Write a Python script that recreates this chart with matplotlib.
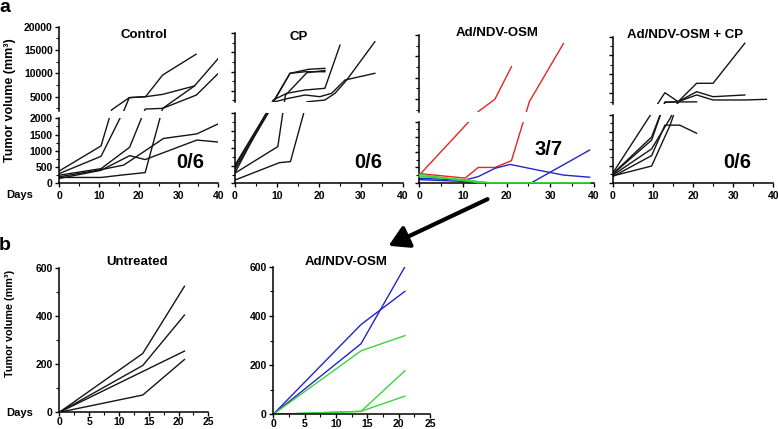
import numpy as np
import matplotlib
matplotlib.use("Agg")
import matplotlib.pyplot as plt
from matplotlib.patches import FancyArrowPatch

plt.rcParams["font.family"] = ["Liberation Sans", "DejaVu Sans"]
plt.rcParams["font.weight"] = "bold"

# ---- panel a data (days, tumour volume mm3) ----
ctrl_days = [
    [0, 10.5, 13.2, 17.6, 21.7, 26, 34],
    [0, 10.5, 16.3, 17.6, 21.7, 26, 34.4],
    [0, 10.5, 17.7, 21.6, 26, 34, 40],
    [0, 10.5, 16.2, 21.6, 26, 34.5, 40],
    [0, 10.5, 16.2, 21.6, 26.2, 34.6, 40],
    [0, 10.5, 17.7, 21.6, 34.6, 40],
]
ctrl_vol = [
    [380, 1150, 2200, 4800, 5000, 5500, 7300],
    [300, 830, 2150, 4800, 5000, 9650, 14100],
    [250, 450, 1110, 2360, 2500, 7300, 13200],
    [180, 180, 260, 330, 2500, 5360, 10000],
    [200, 420, 560, 1000, 1380, 1520, 1830],
    [150, 400, 850, 730, 1330, 1270],
]

cp_days = [
    [0, 9.1, 13.1, 17.5, 21.4],
    [0, 9.3, 13.1, 16.7, 21.4],
    [0, 9.1, 12.3, 16.7, 21.4, 25],
    [0, 10.2, 12, 17.1, 21.4],
    [0, 10.6, 13.2, 17.1, 21.4, 23.8, 26.6, 33.3],
    [0, 9.5, 12.7, 16.7, 20.2, 23, 26.2, 33.3],
]
cp_vol = [
    [520, 2130, 9550, 10590, 10850],
    [470, 2300, 9550, 9960, 9960],
    [300, 2570, 4320, 5190, 5630, 16900],
    [290, 1050, 3800, 9700, 10300],
    [94, 590, 620, 2100, 2570, 4320, 7800, 17800],
    [400, 2130, 3000, 3880, 3440, 4320, 7800, 9550],
]

osm_days = [
    [0, 13.5, 17.3, 21.1],
    [0, 10.5, 13.5, 17.3, 21.1, 25.2, 33],
    [0, 10.5, 13.5, 17.3, 20.8, 26.9, 33, 39],
    [0, 10.5, 14, 25.7, 39],
    [0, 10.5, 13.5, 39],
    [0, 10.5, 16, 39],
    [0, 10.5, 13.5, 16, 39],
]
osm_vol = [
    [250, 2050, 4930, 12560],
    [300, 150, 500, 500, 720, 4370, 18000],
    [144, 90, 200, 470, 600, 420, 250, 180],
    [100, 40, 0, 0, 1070],
    [280, 60, 0, 0],
    [230, 80, 0, 0],
    [200, 100, 30, 0, 0],
]
osm_group = ["red", "red", "blue", "blue", "green", "green", "green"]

combo_days = [
    [0, 13, 16.3, 20.9, 25, 32.9],
    [0, 9.7, 13, 20.9],
    [0, 9.7, 14.3, 16.3, 20.9, 25, 32.9, 38.3],
    [0, 9.7, 14.3, 16.3, 20.9, 25, 32.9],
    [0, 9.7, 13, 16.7, 20.9],
    [0, 9.7, 13, 16.3],
]
combo_vol = [
    [280, 5000, 2590, 7520, 7520, 18250],
    [250, 1260, 2500, 2550],
    [220, 1000, 1900, 2590, 4400, 3050, 3050, 3230],
    [200, 493, 1700, 2590, 5270, 3930, 4390],
    [180, 800, 1700, 1700, 1460],
    [260, 1350, 2400, 2590],
]

titles_a = ["Control", "CP", "Ad/NDV-OSM", "Ad/NDV-OSM + CP"]
ratios_a = ["0/6", "0/6", "3/7", "0/6"]

# ---- panel b data ----
b_days = [0, 14, 21]
untreated_vol = [[0, 245, 525], [0, 195, 405], [0, 170, 255], [0, 72, 220]]
b_osm_vol = [[0, 365, 500], [0, 287, 600], [0, 258, 320], [0, 12, 177], [0, 12, 74]]
b_osm_group = ["blue", "blue", "green", "green", "green"]

colors = {"black": "#141414", "red": "#e5251f", "blue": "#2424c8", "green": "#3cd43c"}

W, H = 778, 429
fig = plt.figure(figsize=(W / 100, H / 100), dpi=100)


def rect(x0, x1, ytop, ybot):
    return [x0 / W, 1 - ybot / H, (x1 - x0) / W, (ybot - ytop) / H]


def put(x, y, s, **kw):
    fig.text(x / W, 1 - y / H, s, ha="center", va="center", **kw)


def broken_scale(h_lo, gap, h_up):
    # piecewise map like the GraphPad broken axis (in pixel units)
    def fwd(v):
        v = np.asarray(v, dtype=float)
        return np.where(v <= 2000, v / 2000 * h_lo,
                        np.where(v <= 2001, h_lo + (v - 2000) * gap,
                                 h_lo + gap + (v - 2001) / 17999 * h_up))

    def inv(y):
        y = np.asarray(y, dtype=float)
        return np.where(y <= h_lo, y / h_lo * 2000,
                        np.where(y <= h_lo + gap, 2000 + (y - h_lo) / gap,
                                 2001 + (y - h_lo - gap) / h_up * 17999))
    return fwd, inv


def style(ax, left_labels):
    for s in ["top", "right"]:
        ax.spines[s].set_visible(False)
    for s in ["left", "bottom"]:
        ax.spines[s].set_linewidth(1.1)
    ax.tick_params(which="major", direction="out", length=3.2, width=1.0,
                   labelsize=7.5, pad=1.5, labelleft=left_labels)
    ax.tick_params(which="minor", direction="out", length=2, width=0.8)


# pixel boxes: x0, x1, upper top, upper bottom, lower top, lower bottom
boxes = [
    (59.3, 218.3, 26.7, 110.7, 118.3, 183.3),
    (235, 403, 33.3, 102.2, 113.3, 183.3),
    (419.3, 594, 35, 111.8, 121.7, 182.7),
    (612.7, 773.3, 36.7, 103.9, 115, 182.7),
]
all_days = [ctrl_days, cp_days, osm_days, combo_days]
all_vol = [ctrl_vol, cp_vol, osm_vol, combo_vol]
all_groups = [None, None, osm_group, None]

for i, (x0, x1, ut, ub, lt, lb) in enumerate(boxes):
    funcs = broken_scale(lb - lt, lt - ub, ub - ut)
    ax_lo = fig.add_axes(rect(x0, x1, lt, lb))
    ax_up = fig.add_axes(rect(x0, x1, ut, ub))
    for ax in (ax_lo, ax_up):
        ax.set_yscale("function", functions=funcs)
        ax.set_xlim(0, 40)
        style(ax, i == 0)
    ax_lo.set_ylim(0, 2000)
    ax_up.set_ylim(2001, 20000)
    ax_lo.set_yticks([0, 500, 1000, 1500, 2000])
    ax_lo.set_yticks([250, 750, 1250, 1750], minor=True)
    ax_up.set_yticks([5000, 10000, 15000, 20000])
    ax_up.set_yticks([2500, 7500, 12500, 17500], minor=True)
    ax_lo.set_xticks([0, 10, 20, 30, 40])
    ax_lo.set_xticks([5, 15, 25, 35], minor=True)
    ax_lo.tick_params(axis="x", labelsize=7.5, pad=2.5)
    ax_up.spines["bottom"].set_visible(False)
    ax_up.tick_params(axis="x", which="both", bottom=False, labelbottom=False)

    groups = all_groups[i] or ["black"] * len(all_days[i])
    for d, v, g in zip(all_days[i], all_vol[i], groups):
        z = 3 if g == "green" else 2
        ax_lo.plot(d, v, color=colors[g], lw=1.0, zorder=z,
                   clip_on=(g != "green"))
        if max(v) > 2000:
            ax_up.plot(d, v, color=colors[g], lw=1.0, zorder=z)

    put((x0 + x1) / 2 + [5, -20, -10, -8][i], [35, 36.7, 33.3, 35][i],
        titles_a[i], fontsize=9.5, fontweight="bold")

for (x, y), s in zip([(190, 163), (368, 163), (549, 150), (737, 163)], ratios_a):
    put(x, y, s, fontsize=14.5, fontweight="bold")

put(5, 7, "a", fontsize=14, fontweight="bold")
put(20, 195, "Days", fontsize=8, fontweight="bold")
put(10, 100, "Tumor volume (mm³)", fontsize=9, fontweight="bold", rotation=90)

# ---- panel b ----
b_boxes = [(59.3, 208.3, 268.3, 412.3), (273.3, 430, 266.7, 414.3)]
b_series = [(untreated_vol, ["black"] * 4), (b_osm_vol, b_osm_group)]
b_titles = ["Untreated", "Ad/NDV-OSM"]
for k, ((x0, x1, yt, yb), (vols, grp), t) in enumerate(zip(b_boxes, b_series, b_titles)):
    ax = fig.add_axes(rect(x0, x1, yt, yb))
    for v, g in zip(vols, grp):
        ax.plot(b_days, v, color=colors[g], lw=1.0)
    ax.set_xlim(0, 25)
    ax.set_ylim(0, 600)
    ax.set_xticks([0, 5, 10, 15, 20, 25])
    ax.set_xticks([2.5, 7.5, 12.5, 17.5, 22.5], minor=True)
    ax.set_yticks([0, 200, 400, 600])
    ax.set_yticks([100, 300, 500], minor=True)
    style(ax, True)
    ax.tick_params(axis="x", which="major", labelsize=7.5, pad=0.8, length=2.8)
    put((x0 + x1) / 2 + [3, -6][k], 262, t, fontsize=9.5, fontweight="bold")

put(5, 246, "b", fontsize=14, fontweight="bold")
put(20, 413, "Days", fontsize=8, fontweight="bold")
put(10, 323, "Tumor volume (mm³)", fontsize=7.8, fontweight="bold", rotation=90)

arrow = FancyArrowPatch((490 / W, 1 - 198 / H), (386 / W, 1 - 247 / H),
                        transform=fig.transFigure,
                        arrowstyle="-|>,head_length=0.6,head_width=0.35",
                        mutation_scale=20, lw=3, color="black")
fig.add_artist(arrow)

fig.savefig("out.png", dpi=100)
